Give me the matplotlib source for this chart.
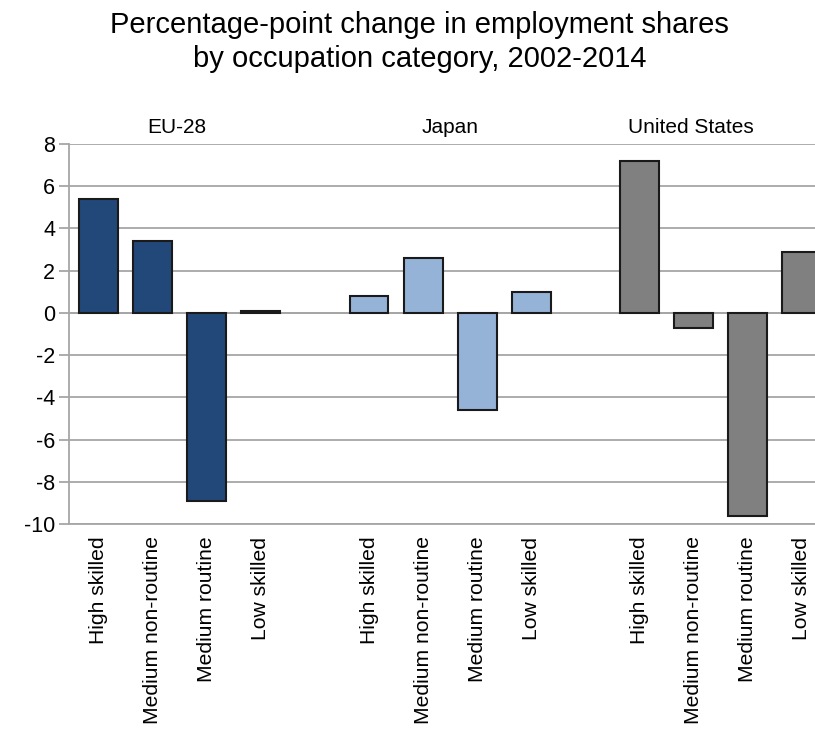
import matplotlib
matplotlib.use("Agg")
import matplotlib.pyplot as plt

plt.rcParams['font.family'] = ['Liberation Sans', 'DejaVu Sans']

categories = ["High skilled", "Medium non-routine", "Medium routine", "Low skilled"]
groups = ["EU-28", "Japan", "United States"]
eu_values = [5.4, 3.4, -8.9, 0.1]
japan_values = [0.8, 2.6, -4.6, 1.0]
us_values = [7.2, -0.7, -9.6, 2.9]
colors = ["#22487a", "#95b3d7", "#808080"]
yticks = [8, 6, 4, 2, 0, -2, -4, -6, -8, -10]
title_lines = ["Percentage-point change in employment shares",
               "by occupation category, 2002-2014"]

fig = plt.figure(figsize=(8.15, 7.39), dpi=100)
ax = fig.add_axes([69/815, 1-524/739, 1-69/815, (524-144)/739])

all_vals = [eu_values, japan_values, us_values]
xticks, xlabels = [], []
for g, (vals, col) in enumerate(zip(all_vals, colors)):
    pos = [g*5 + i for i in range(len(vals))]
    ax.bar(pos, vals, width=0.72, color=col, edgecolor="#1a1a1a", linewidth=1.5, zorder=3)
    xticks += pos
    xlabels += categories

ax.set_xlim(-0.55, 13.25)
ax.set_ylim(-10, 8)
ax.set_yticks(yticks)
ax.set_yticklabels([str(t) for t in yticks], fontsize=15.5)
ax.yaxis.grid(True, color="#a6a6a6", linewidth=1.3, zorder=0)
ax.axhline(0, color="#a6a6a6", linewidth=1.3, zorder=2)
ax.set_xticks(xticks)
ax.set_xticklabels(xlabels, rotation=90, fontsize=15.2, va="top")
ax.tick_params(axis="x", length=0, pad=9)
ax.tick_params(axis="y", length=7, color="#a6a6a6", width=1.3, pad=3)
for s in ["top", "right"]:
    ax.spines[s].set_visible(False)
for s in ["left", "bottom"]:
    ax.spines[s].set_color("#a6a6a6")
    ax.spines[s].set_linewidth(1.3)

group_x = [1.45, 6.5, 10.95]
for gx, name in zip(group_x, groups):
    ax.text(gx, 8.35, name, ha="center", va="bottom", fontsize=15)

fig.text(0.515, 1-33/739, title_lines[0], ha="center", va="baseline", fontsize=21)
fig.text(0.515, 1-67/739, title_lines[1], ha="center", va="baseline", fontsize=21)

fig.savefig("out.png", dpi=100)
